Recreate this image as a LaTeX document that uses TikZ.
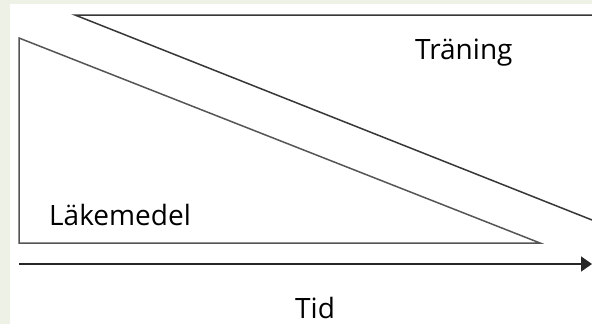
\documentclass[tikz,border=0pt]{standalone}
\usepackage{fontspec}
\setmainfont{Open Sans}
\usetikzlibrary{arrows.meta}
\definecolor{bgc}{RGB}{238,241,230}
\definecolor{linec}{RGB}{55,55,55}
\tikzset{
  shapeline/.style={draw=linec, line width=1.5pt},
  lbl/.style={anchor=base west, inner sep=0pt, font=\fontsize{28}{30}\selectfont, text=black},
  timearrow/.style={draw=black!85, line width=1.6pt, -{Triangle[length=11pt,width=15pt]}}
}
\begin{document}
\begin{tikzpicture}[x=1pt,y=-1pt]
  \useasboundingbox (0,0) rectangle (592,324);
  \fill[bgc] (0,0) rectangle (592,324);
  \fill[white] (10,4) rectangle (592,324);
  % upper shape (Träning)
  \draw[shapeline] (592,15) -- (75,15) -- (592,220);
  % lower triangle (Läkemedel)
  \draw[shapeline, draw=linec!85] (19,38) -- (19,243) -- (540,243) -- cycle;
  % time arrow
  \coordinate (t0) at (19,264);
  \coordinate (t1) at (592,264);
  \draw[timearrow] (t0) -- (t1);
  \node[lbl] (tr) at (415,59) {Träning};
  \node[lbl] (lk) at (49,225) {Läkemedel};
  \node[lbl] (td) at (295,318) {Tid};
\end{tikzpicture}
\end{document}
